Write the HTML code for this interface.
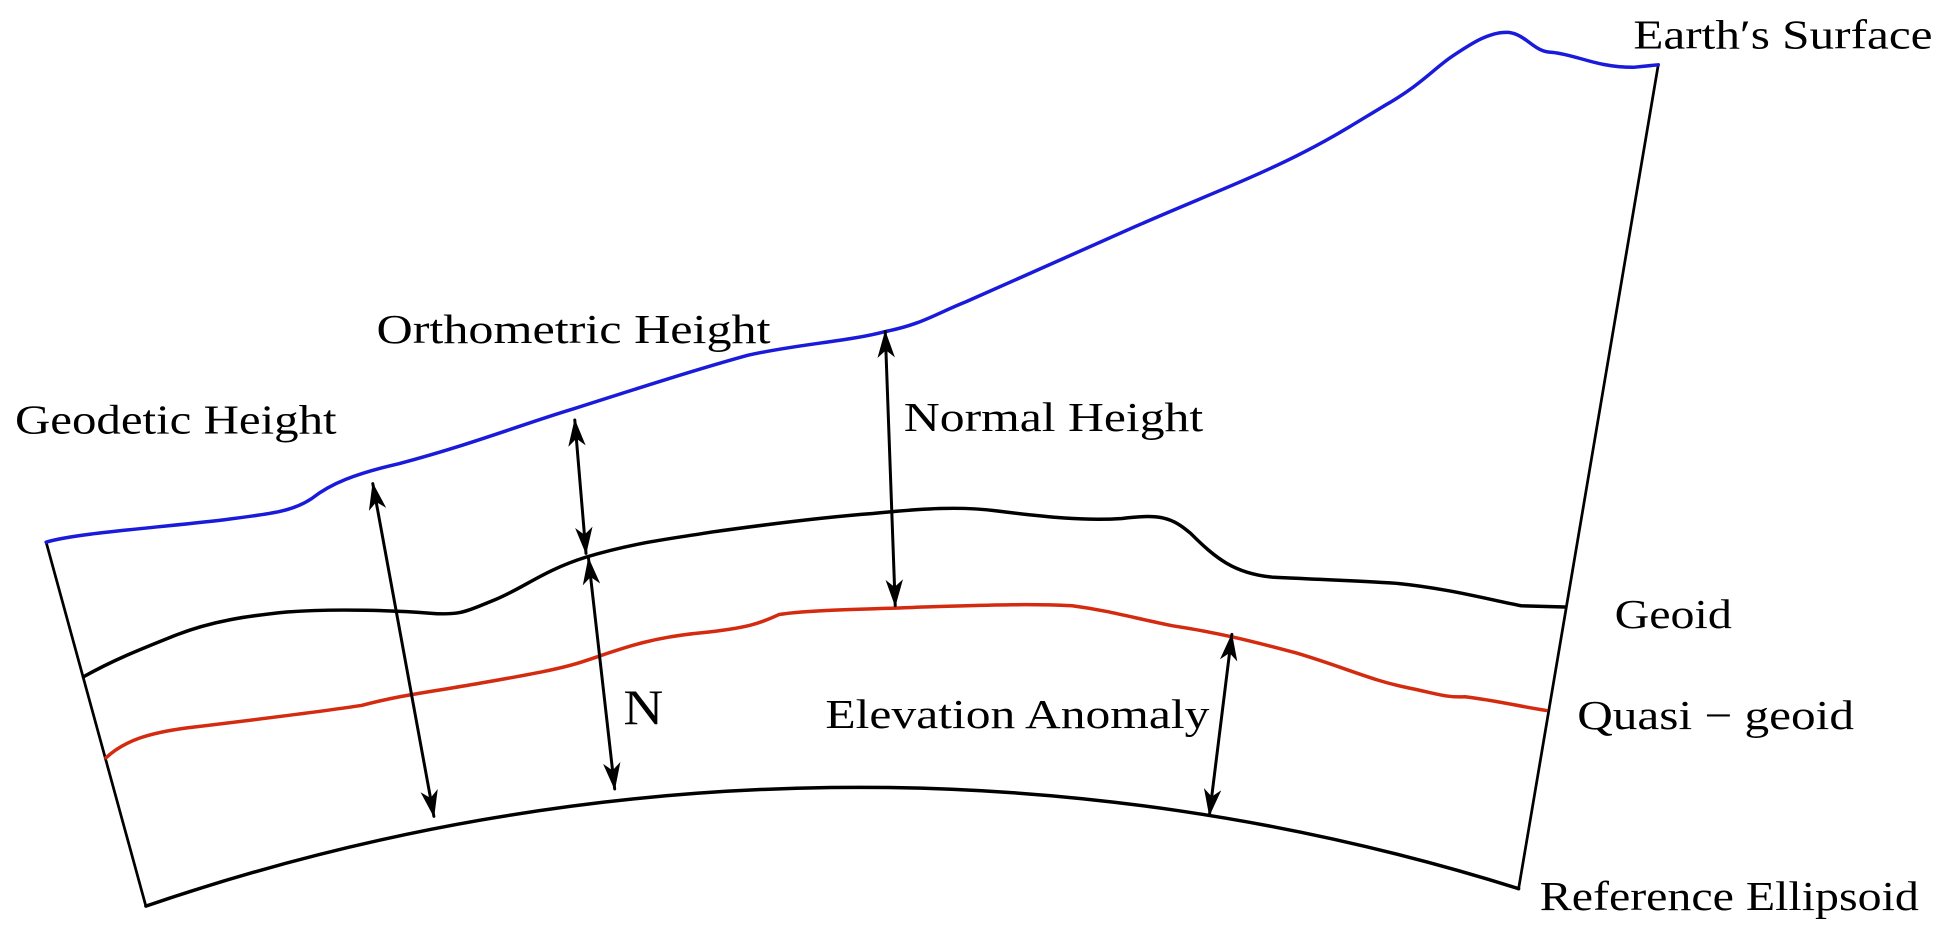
<!DOCTYPE html>
<html><head><style>
html,body{margin:0;padding:0;background:#fff;}
svg{display:block;}
text{font-family:"Liberation Serif",serif;fill:#000;}
</style></head><body>
<svg width="1955" height="946" viewBox="0 0 1568 759" preserveAspectRatio="none" xmlns="http://www.w3.org/2000/svg">
<defs>
<marker id="ah" viewBox="0 0 22 14" refX="21" refY="7" markerWidth="22" markerHeight="14" markerUnits="userSpaceOnUse" orient="auto-start-reverse">
<path d="M0,0 L22,7 L0,14 L6,7 Z" fill="#000"/>
</marker>
</defs>
<g fill="none" stroke-linejoin="round" stroke-linecap="round">
<line x1="37" y1="435" x2="117" y2="727" stroke="#000" stroke-width="2.2"/>
<line x1="1330" y1="52" x2="1218" y2="713" stroke="#000" stroke-width="2.2"/>
<path d="M117,727 A1763,1763 0 0 1 1218,713" stroke="#000" stroke-width="2.8"/>
<path d="M37,435 C60,428 120,424 180,417 C220,412 235,410 250,400 C265,388 285,380 320,372 C380,356 420,340 460,328 C510,312 560,296 600,285 C640,276 680,274 710,266 C740,260 750,252 775,242 C820,222 870,200 910,182 C960,160 1000,145 1040,125 C1070,110 1085,100 1110,85 C1140,68 1150,55 1165,45 C1180,35 1195,25 1210,26 C1225,28 1230,42 1245,42 C1265,44 1280,54 1310,54 L1330,52" stroke="#1a1adb" stroke-width="2.8"/>
<path d="M67,543 C90,530 110,522 140,510 C170,498 200,494 230,491 C270,488 320,490 345,492 C370,494 375,490 395,482 C420,472 435,458 470,447 C510,435 540,432 570,427 C620,420 660,415 700,412 C740,408 770,406 800,410 C840,415 870,418 900,416 C930,412 940,415 955,428 C975,448 990,460 1020,463 C1060,465 1090,466 1120,468 C1160,472 1190,480 1220,486 L1255,487" stroke="#000" stroke-width="2.8"/>
<path d="M85,608 C100,594 120,588 150,584 C200,578 250,572 290,566 C320,558 340,556 380,549 C420,542 450,537 470,530 C500,520 520,512 560,508 C600,504 610,500 625,493 C650,489 700,489 740,487 C780,486 820,484 860,486 C890,490 910,496 940,502 C980,508 1010,516 1040,524 C1080,536 1100,546 1130,552 C1150,556 1160,560 1175,559 C1200,562 1220,567 1240,570" stroke="#d42a10" stroke-width="2.8"/>
<g stroke="#000" stroke-width="2.4" marker-start="url(#ah)" marker-end="url(#ah)">
<line x1="299" y1="388" x2="348" y2="655"/>
<line x1="461" y1="337" x2="470" y2="444"/>
<line x1="472" y1="448" x2="493" y2="633"/>
<line x1="710" y1="266" x2="718" y2="486"/>
<line x1="988" y1="509" x2="970" y2="654"/>
</g>
</g>
<g font-size="33">
<text x="1310" y="39" textLength="240" lengthAdjust="spacingAndGlyphs">Earth′s Surface</text>
<text x="12" y="348" textLength="258" lengthAdjust="spacingAndGlyphs">Geodetic Height</text>
<text x="302" y="275" textLength="316" lengthAdjust="spacingAndGlyphs">Orthometric Height</text>
<text x="725" y="346" textLength="240" lengthAdjust="spacingAndGlyphs">Normal Height</text>
<text x="1295" y="504" textLength="94" lengthAdjust="spacingAndGlyphs">Geoid</text>
<text x="1265" y="585" textLength="222" lengthAdjust="spacingAndGlyphs">Quasi − geoid</text>
<text x="1235" y="730" textLength="304" lengthAdjust="spacingAndGlyphs">Reference Ellipsoid</text>
<text x="662" y="584" textLength="308" lengthAdjust="spacingAndGlyphs">Elevation Anomaly</text>
<text x="500" y="581" font-size="40" textLength="32" lengthAdjust="spacingAndGlyphs">N</text>
</g>
</svg>
</body></html>
